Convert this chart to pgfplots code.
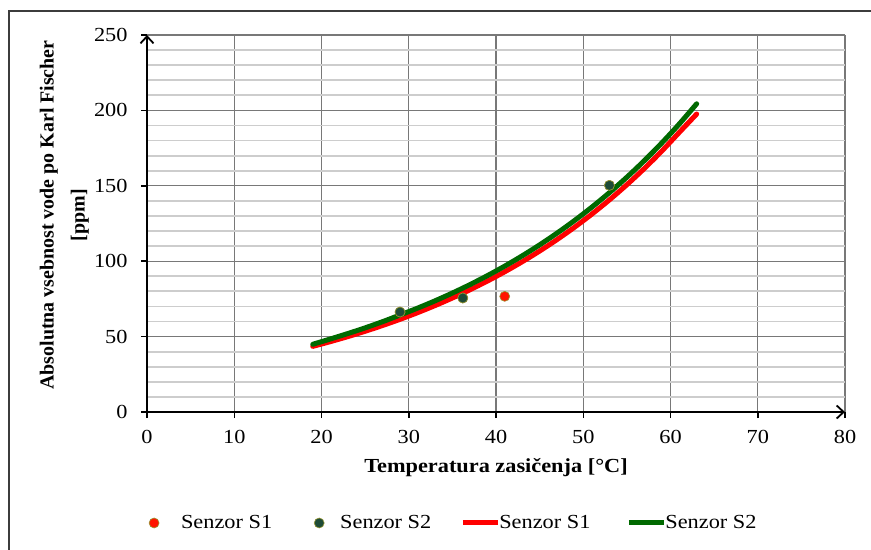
\documentclass[border=0pt]{standalone}
\usepackage{pgfplots}
\pgfplotsset{compat=1.18}
\usetikzlibrary{arrows.meta}
\usepackage{fontspec}
\setmainfont{Liberation Serif}[FakeStretch=1.12]
\newfontfamily\ylabfont{Liberation Serif}
\definecolor{gridmaj}{RGB}{120,120,120}
\definecolor{gridmin}{RGB}{205,205,205}
\definecolor{lred}{RGB}{255,0,0}
\definecolor{lgreen}{RGB}{0,105,0}
\definecolor{mred}{RGB}{255,20,0}
\definecolor{mgreen}{RGB}{30,75,55}
\definecolor{medge}{RGB}{150,150,50}
\definecolor{framec}{RGB}{60,60,60}
\pgfplotsset{
  markleg/.style={legend image code/.code={\draw[mark repeat=2,mark phase=2,##1] plot coordinates {(0bp,0bp)(10bp,0bp)(20bp,0bp)};}},
  lineleg/.style={legend image code/.code={\draw[##1, line cap=butt] (0bp,0bp) -- (35bp,0bp);}},
}
\begin{document}
\begin{tikzpicture}
\useasboundingbox (0,0) rectangle (871bp,-550bp);
\draw[framec, line width=1.5bp] (9bp,-550bp) -- (9bp,-11bp) -- (871bp,-11bp);
\begin{axis}[
  at={(147bp,-412bp)}, anchor=south west,
  scale only axis, width=698bp, height=377bp,
  xmin=0, xmax=80, ymin=0, ymax=250,
  xtick={0,10,...,80}, ytick={0,50,...,250},
  minor y tick num=4,
  xmajorgrids, ymajorgrids, yminorgrids,
  major grid style={gridmaj, line width=1.3bp},
  minor grid style={gridmin, line width=1.8bp},
  axis lines=left,
  axis line style={black, line width=1.8bp, -{Straight Barb[length=7bp,width=13bp,line width=1.8bp]}},
  tick align=outside, major tick length=6bp, minor tick length=0bp,
  tick style={black, line width=1.5bp},
  /pgf/number format/assume math mode=true,
  ticklabel style={font=\fontsize{20}{20}\selectfont},
  xticklabel style={yshift=-9bp},
  yticklabel style={xshift=-10bp},
  xlabel={Temperatura zasičenja [°C]},
  ylabel={Absolutna vsebnost vode po Karl Fischer\\{[ppm]}},
  x label style={at={(axis description cs:0.5,-0.1465)}, anchor=center, font=\fontsize{20}{24}\selectfont\bfseries},
  y label style={at={(axis description cs:-0.1185,0.5225)}, anchor=center, rotate=0, align=center, font=\ylabfont\fontsize{20}{31}\selectfont\bfseries},
  legend columns=4,
  legend style={at={(axis description cs:0.003,-0.2944)}, anchor=west, draw=none, fill=none,
    inner sep=0pt, outer sep=0pt,
    font=\fontsize{20}{20}\selectfont,
    /tikz/column 1/.style={column sep=20bp},
    /tikz/column 2/.style={column sep=40bp},
    /tikz/column 3/.style={column sep=14bp},
    /tikz/column 4/.style={column sep=27bp},
    /tikz/column 5/.style={column sep=-3bp},
    /tikz/column 6/.style={column sep=34bp},
    /tikz/column 7/.style={column sep=-3bp}},
  legend cell align=left,
]
\addplot[only marks, mark=*, mark size=5bp, mark options={fill=mred, draw=medge, line width=0.6bp}, markleg]
  coordinates {(29,66.3) (36.2,75.6) (41,76.7) (53,150.3)};
\addlegendentry{Senzor S1}
\addplot[only marks, mark=*, mark size=5bp, mark options={fill=mgreen, draw=medge, line width=0.6bp}, markleg]
  coordinates {(29,66.3) (36.2,75.6) (53,150.3)};
\addlegendentry{Senzor S2}
\addplot[no marks, lred, line width=5bp, line cap=round, smooth, lineleg]
  coordinates {(19,43.53) (21,46.64) (23,49.97) (25,53.54) (27,57.37) (29,61.46) (31,65.85) (33,70.56)
  (35,75.60) (37,81.00) (39,86.79) (41,92.99) (43,99.63) (45,106.74) (47,114.37) (49,122.54)
  (51,131.29) (53,140.67) (55,150.72) (57,161.48) (59,173.02) (61,185.38) (63,197.6)};
\addlegendentry{Senzor S1}
\addplot[no marks, lgreen, line width=5bp, line cap=round, smooth, lineleg]
  coordinates {(19,44.9) (21,48.4) (23,52.0) (25,55.8) (27,59.9) (29,64.33) (31,68.86) (33,73.70)
  (35,78.89) (37,84.44) (39,90.38) (41,96.74) (43,103.55) (45,110.84) (47,118.64) (49,126.98)
  (51,135.92) (53,145.48) (55,155.72) (57,166.68) (59,178.41) (61,190.96) (63,204.40)};
\addlegendentry{Senzor S2}
\end{axis}
\end{tikzpicture}
\end{document}
